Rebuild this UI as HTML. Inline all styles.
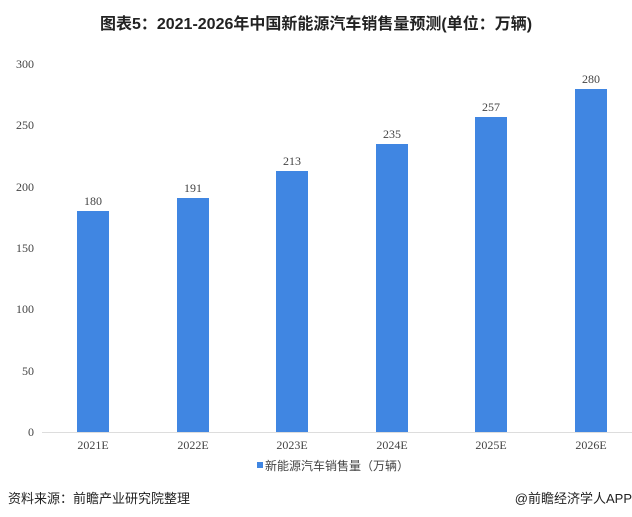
<!DOCTYPE html>
<html><head><meta charset="utf-8"><style>
body{margin:0;width:632px;height:517px;background:#fff;overflow:hidden;position:relative;font-family:"Liberation Sans","Noto Sans CJK SC",sans-serif}
.t{position:absolute;white-space:nowrap}
.yl{position:absolute;left:0;width:34px;text-align:right;font:12px "Liberation Serif",serif;color:#444}
.xl{position:absolute;width:60px;text-align:center;font:12px "Liberation Serif",serif;color:#444;top:438px}
.bar{position:absolute;width:32px;background:#4086e2}
.v{position:absolute;width:60px;text-align:center;font:12px "Liberation Serif",serif;color:#444}
</style></head><body>
<div class="t" style="left:0;width:632px;text-align:center;top:10px;font-weight:bold;font-size:16px;color:#222">图表5：2021-2026年中国新能源汽车销售量预测(单位：万辆)</div>
<div class="yl" style="top:57px">300</div>
<div class="yl" style="top:118px">250</div>
<div class="yl" style="top:180px">200</div>
<div class="yl" style="top:241px">150</div>
<div class="yl" style="top:302px">100</div>
<div class="yl" style="top:364px">50</div>
<div class="yl" style="top:425px">0</div>
<div style="position:absolute;left:42px;top:432px;width:590px;height:1px;background:#ddd"></div>
<div class="bar" style="left:77px;top:211px;height:221px"></div>
<div class="bar" style="left:177px;top:198px;height:234px"></div>
<div class="bar" style="left:276px;top:171px;height:261px"></div>
<div class="bar" style="left:376px;top:144px;height:288px"></div>
<div class="bar" style="left:475px;top:117px;height:315px"></div>
<div class="bar" style="left:575px;top:89px;height:343px"></div>
<div class="v" style="left:63px;top:194px">180</div>
<div class="v" style="left:163px;top:181px">191</div>
<div class="v" style="left:262px;top:154px">213</div>
<div class="v" style="left:362px;top:127px">235</div>
<div class="v" style="left:461px;top:100px">257</div>
<div class="v" style="left:561px;top:72px">280</div>
<div class="xl" style="left:63px">2021E</div>
<div class="xl" style="left:163px">2022E</div>
<div class="xl" style="left:262px">2023E</div>
<div class="xl" style="left:362px">2024E</div>
<div class="xl" style="left:461px">2025E</div>
<div class="xl" style="left:561px">2026E</div>
<div style="position:absolute;left:257px;top:462px;width:6px;height:6px;background:#4086e2"></div>
<div class="t" style="left:265px;top:457px;font-size:12px;color:#444">新能源汽车销售量（万辆）</div>
<div class="t" style="left:8px;top:488px;font-size:13px;color:#222">资料来源：前瞻产业研究院整理</div>
<div class="t" style="right:0;top:488px;font-size:13px;color:#222">@前瞻经济学人APP</div>
</body></html>
